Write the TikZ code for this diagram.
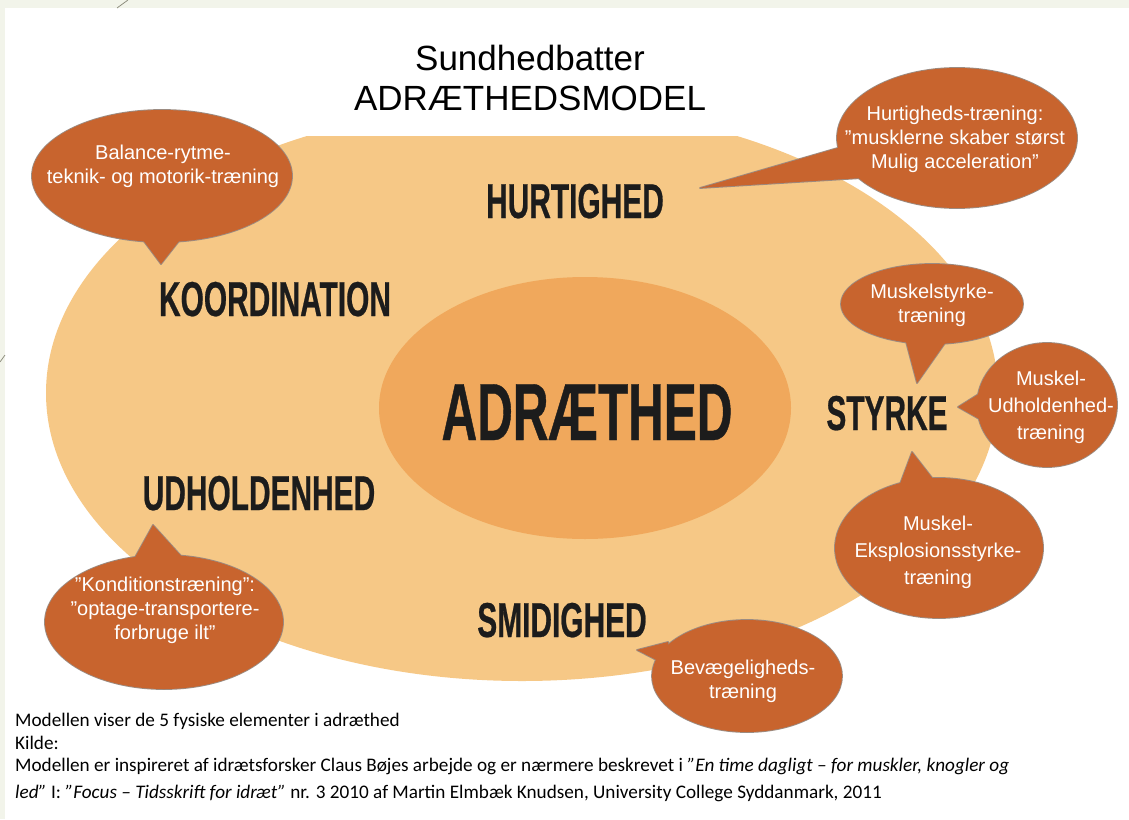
\documentclass[tikz,border=0pt]{standalone}
\usepackage{fontspec}
\setmainfont{Liberation Sans}
\newfontfamily\condfont[FakeStretch=0.61, BoldFeatures={FakeBold=0.5}]{Liberation Sans}
\newfontfamily\notefont{Carlito}
\definecolor{bgside}{HTML}{F2F4EA}
\definecolor{outerfill}{HTML}{F6C886}
\definecolor{innerfill}{HTML}{F0A85C}
\definecolor{bubblefill}{HTML}{C8642E}
\definecolor{bubbleline}{HTML}{9C8C82}
\definecolor{labeltext}{HTML}{1C1C1C}
\definecolor{decoline}{HTML}{8F8F80}
\tikzset{
  catlabel/.style={anchor=base, inner sep=0pt, text=labeltext,
    font=\condfont\bfseries\fontsize{49}{49}\selectfont},
  bubbletext/.style={text=white, align=center, inner sep=0pt,
    font=\fontsize{20}{24}\selectfont},
  bubbletextwide/.style={bubbletext, font=\fontsize{20}{27}\selectfont},
  titletext/.style={anchor=base, inner sep=0pt, font=\fontsize{35}{35}\selectfont},
  notetext/.style={anchor=base west, inner sep=0pt, font=\notefont\fontsize{19.2}{19.2}\selectfont},
  bubbleedge/.style={draw=bubbleline, line width=1.8pt, line join=round},
  bubblebody/.style={fill=bubblefill},
}
% #1 centre, #2 x radius, #3 y radius, #4 base 1, #5 tip, #6 base 2
\newcommand\callout[6]{%
  \path[bubbleedge] #1 ellipse [x radius=#2, y radius=#3];
  \path[bubbleedge] #4 -- #5 -- #6 -- cycle;
  \path[bubblebody] #1 ellipse [x radius=#2, y radius=#3];
  \path[bubblebody] #4 -- #5 -- #6 -- cycle;
}
\begin{document}
\begin{tikzpicture}[x=1pt, y=-1pt]
\useasboundingbox (0,0) rectangle (1129,819);
% slide background
\fill[bgside] (0,0) rectangle (1129,819);
\fill[white] (5,8) rectangle (1129,819);
\draw[decoline, line width=0.8pt] (117,8) -- (128,0);
\draw[decoline, line width=0.8pt] (0,362) -- (5,355);

% title
\node[titletext] (title1) at (530,70) {Sundhedbatter};
\node[titletext] (title2) at (530,110) {ADRÆTHEDSMODEL};

% big ellipses
\begin{scope}
  \clip (0,136) rectangle (1129,819);
  \fill[outerfill] (522,393) ellipse [x radius=476pt, y radius=288pt];
\end{scope}
\fill[innerfill] (585,408) ellipse [x radius=206pt, y radius=131pt];

% category labels
\node[catlabel] (hurtighed) at (575,218) {HURTIGHED};
\node[catlabel] (koordination) at (275,316) {KOORDINATION};
\node[catlabel] (styrke) at (887,430) {STYRKE};
\node[catlabel] (udholdenhed) at (259,510) {UDHOLDENHED};
\node[catlabel] (smidighed) at (562,637) {SMIDIGHED};
\node[catlabel, font=\condfont\bfseries\fontsize{81}{81}\selectfont] (adraethed) at (587,440) {ADRÆTHED};

% callouts
\callout{(162,176)}{130pt}{66pt}{(140,236)}{(161,264)}{(183,236)}
\node[bubbletext] (tbalance) at (163,166) {Balance-rytme-\\teknik- og motorik-træning};

\callout{(957,138)}{120pt}{70pt}{(848,145)}{(700,188)}{(862,178)}
\node[bubbletext] (thurtig) at (955,139) {Hurtigheds-træning:\\”musklerne skaber størst\\Mulig acceleration”};

\callout{(932,304)}{91pt}{40pt}{(905,338)}{(917,383)}{(950,336)}
\node[bubbletext] (tmstyrke) at (932,305) {Muskelstyrke-\\træning};

\callout{(1047,405)}{70pt}{62pt}{(985,390)}{(958,407)}{(988,424)}
\node[bubbletextwide] (tmudh) at (1051,407) {Muskel-\\Udholdenhed-\\træning};

\callout{(939,548)}{104pt}{70pt}{(897,492)}{(912,452)}{(940,488)}
\node[bubbletextwide] (tmeks) at (938,552) {Muskel-\\Eksplosionsstyrke-\\træning};

\callout{(164,622)}{119pt}{67pt}{(128,570)}{(153,525)}{(192,568)}
\node[bubbletext] (tkondi) at (165,610) {”Konditionstræning”:\\”optage-transportere-\\forbruge ilt”};

\callout{(747,676)}{95pt}{56pt}{(668,642)}{(637,650)}{(672,668)}
\node[bubbletext] (tbevaeg) at (743,681) {Bevægeligheds-\\træning};

% notes
\node[notetext] (note1) at (15,726) {Modellen viser de 5 fysiske elementer i adræthed};
\node[notetext] (note2) at (15,749) {Kilde:};
\node[notetext] (note3) at (15,771) {Modellen er inspireret af idrætsforsker Claus Bøjes arbejde og er nærmere beskrevet i \textit{”En time dagligt – for muskler, knogler og}};
\node[notetext] (note4) at (15,798) {\textit{led”} I: \textit{”Focus – Tidsskrift for idræt”} nr. 3 2010 af Martin Elmbæk Knudsen, University College Syddanmark, 2011};
\end{tikzpicture}
\end{document}
